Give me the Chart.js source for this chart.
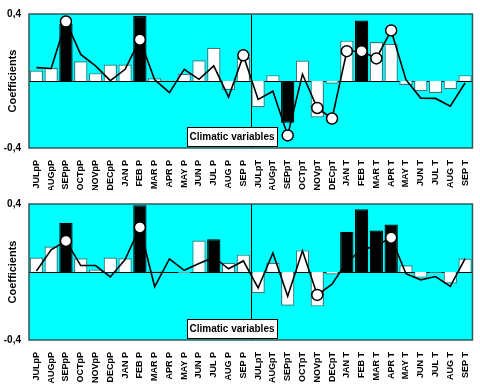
<!DOCTYPE html>
<html>
<head>
<meta charset="utf-8">
<script src="https://cdn.jsdelivr.net/npm/chart.js@4.4.0/dist/chart.umd.min.js"></script>
<style>
  body { margin: 0; background: #fff; }
  .panel { position: absolute; left: 0; width: 480px; }
</style>
</head>
<body>
<div class="panel" style="top:0;height:190px"><canvas id="top"></canvas></div>
<div class="panel" style="top:190px;height:194px"><canvas id="bottom"></canvas></div>
<script>
const categories = [
  "JULpP", "AUGpP", "SEPpP", "OCTpP", "NOVpP", "DECpP", "JAN P", "FEB P",
  "MAR P", "APR P", "MAY P", "JUN P", "JUL P", "AUG P", "SEP P",
  "JULpT", "AUGpT", "SEPpT", "OCTpT", "NOVpT", "DECpT", "JAN T", "FEB T",
  "MAR T", "APR T", "MAY T", "JUN T", "JUL T", "AUG T", "SEP T",
];
const yTicks = [-0.4, 0, 0.4];

// upper panel
const barsTop = [0.063, 0.078, 0.341, 0.118, 0.047, 0.098, 0.098, 0.388, 0.016, 0, 0.043, 0.124, 0.198, -0.053, 0.137,
  -0.157, 0.035, -0.249, 0.122, -0.218, -0.016, 0.241, 0.361, 0.233, 0.222, -0.024, -0.061, -0.071, -0.049, 0.035];
const signifTop = [0, 0, 1, 0, 0, 0, 0, 1, 0, 0, 0, 0, 0, 0, 0,
  0, 0, 1, 0, 0, 0, 0, 1, 0, 0, 0, 0, 0, 0, 0];
const lineTop = [0.08, 0.075, 0.355, 0.159, 0.09, 0.002, 0.07, 0.247, 0.008, -0.069, 0.07, 0.01, 0.09, -0.096, 0.153,
  -0.11, -0.061, -0.325, 0.041, -0.161, -0.224, 0.178, 0.178, 0.135, 0.302, 0.008, -0.102, -0.104, -0.151, -0.012];
const markTop = [0, 0, 1, 0, 0, 0, 0, 1, 0, 0, 0, 0, 0, 0, 1,
  0, 0, 1, 0, 1, 1, 1, 1, 1, 1, 0, 0, 0, 0, 0];

// lower panel
const barsBottom = [0.085, 0.15, 0.29, 0.081, 0.015, 0.085, 0.081, 0.392, 0.004, 0, -0.006, 0.185, 0.192, 0.054, 0.102,
  -0.125, 0.054, -0.198, 0.127, -0.202, -0.015, 0.237, 0.369, 0.244, 0.279, 0.04, -0.033, -0.005, -0.067, 0.079];
const signifBottom = [0, 0, 1, 0, 0, 0, 0, 1, 0, 0, 0, 0, 1, 0, 0,
  0, 0, 0, 0, 0, 0, 1, 1, 1, 1, 0, 0, 0, 0, 0];
const lineBottom = [0.006, 0.131, 0.183, 0.038, 0.038, -0.029, 0.073, 0.262, -0.087, 0.077, 0.01, 0.05, 0.087, 0.019, 0.065,
  -0.094, 0.112, -0.142, 0.125, -0.135, -0.071, 0.06, 0.13, 0.155, 0.202, -0.01, -0.046, -0.027, -0.085, 0.079];
const markBottom = [0, 0, 1, 0, 0, 0, 0, 1, 0, 0, 0, 0, 0, 0, 0,
  0, 0, 0, 0, 1, 0, 0, 0, 0, 1, 0, 0, 0, 0, 0];

const FONT = "'Liberation Sans', Arial, sans-serif";

const deco = {
  id: "deco",
  beforeDraw(chart) {
    const { ctx, chartArea: a } = chart;
    ctx.save();
    ctx.fillStyle = "#00ffff";
    ctx.fillRect(a.left, a.top, a.width, a.height);
    ctx.restore();
  },
  beforeDatasetsDraw(chart) {
    const { ctx, chartArea: a, scales } = chart;
    ctx.save();
    ctx.strokeStyle = "#000";
    ctx.lineWidth = 1;
    const y0 = Math.round(scales.y.getPixelForValue(0)) + 0.5;
    ctx.beginPath();
    ctx.moveTo(a.left, y0);
    ctx.lineTo(a.right, y0);
    const xd = Math.round((scales.x.getPixelForValue(14) + scales.x.getPixelForValue(15)) / 2) + 0.5;
    ctx.moveTo(xd, a.top);
    ctx.lineTo(xd, a.bottom);
    ctx.stroke();
    ctx.restore();
  },
  afterDraw(chart) {
    const { ctx, chartArea: a } = chart;
    ctx.save();
    ctx.strokeStyle = "#2f5a5a";
    ctx.lineWidth = 1.5;
    ctx.strokeRect(a.left, a.top, a.width, a.height);

    // text box
    const bx = a.left + 158, by = a.bottom - 21, bw = 90, bh = 19;
    ctx.fillStyle = "#fff";
    ctx.fillRect(bx, by, bw, bh);
    ctx.strokeStyle = "#000";
    ctx.lineWidth = 1;
    ctx.strokeRect(bx + 0.5, by + 0.5, bw, bh);
    ctx.fillStyle = "#000";
    ctx.font = "bold 10px " + FONT;
    ctx.textAlign = "center";
    ctx.textBaseline = "middle";
    ctx.fillText("Climatic variables", bx + bw / 2, by + bh / 2 + 1);

    // y title
    ctx.translate(13, (a.top + a.bottom) / 2);
    ctx.rotate(-Math.PI / 2);
    ctx.font = "bold 11px " + FONT;
    ctx.fillText("Coefficients", 0, 0);
    ctx.restore();
  },
};

function makePanel(id, bars, signif, line, mark, padTop, xHeight) {
  new Chart(document.getElementById(id), {
    type: "bar",
    data: {
      labels: categories,
      datasets: [
        {
          type: "line",
          data: line.map((v, i) => (mark[i] ? v : null)),
          showLine: false,
          pointRadius: 5.5,
          pointBackgroundColor: "#fff",
          pointBorderColor: "#000",
          pointBorderWidth: 1.5,
          order: 1,
        },
        {
          type: "line",
          data: line,
          borderColor: "#000",
          borderWidth: 1.6,
          pointRadius: 0,
          tension: 0,
          order: 2,
        },
        {
          data: bars,
          backgroundColor: signif.map((s) => (s ? "#000" : "#fff")),
          borderColor: signif.map((s) => (s ? "#000" : "#4a7272")),
          borderWidth: 1.2,
          categoryPercentage: 1,
          barPercentage: 0.9,
          order: 3,
        },
      ],
    },
    options: {
      responsive: true,
      maintainAspectRatio: false,
      animation: false,
      layout: { padding: { top: padTop, right: 4, left: 0, bottom: 0 } },
      plugins: { legend: { display: false }, tooltip: { enabled: false } },
      scales: {
        x: {
          grid: { display: false },
          border: { display: false },
          ticks: {
            minRotation: 90,
            maxRotation: 90,
            autoSkip: false,
            padding: 4,
            color: "#000",
            font: { family: FONT, size: 9, weight: "bold" },
          },
          afterFit(scale) { scale.height = xHeight; },
        },
        y: {
          min: -0.4,
          max: 0.4,
          grid: { display: false, drawTicks: false },
          border: { display: false },
          afterBuildTicks(scale) { scale.ticks = yTicks.map((v) => ({ value: v })); },
          ticks: {
            padding: 8,
            color: "#000",
            font: { family: FONT, size: 10, weight: "bold" },
            callback: (v) => (v === 0 ? "" : String(v).replace(".", ",")),
          },
          afterFit(scale) { scale.width = 29; },
        },
      },
    },
    plugins: [deco],
  });
}

makePanel("top", barsTop, signifTop, lineTop, markTop, 12, 42);
makePanel("bottom", barsBottom, signifBottom, lineBottom, markBottom, 13, 44);
</script>
</body>
</html>
